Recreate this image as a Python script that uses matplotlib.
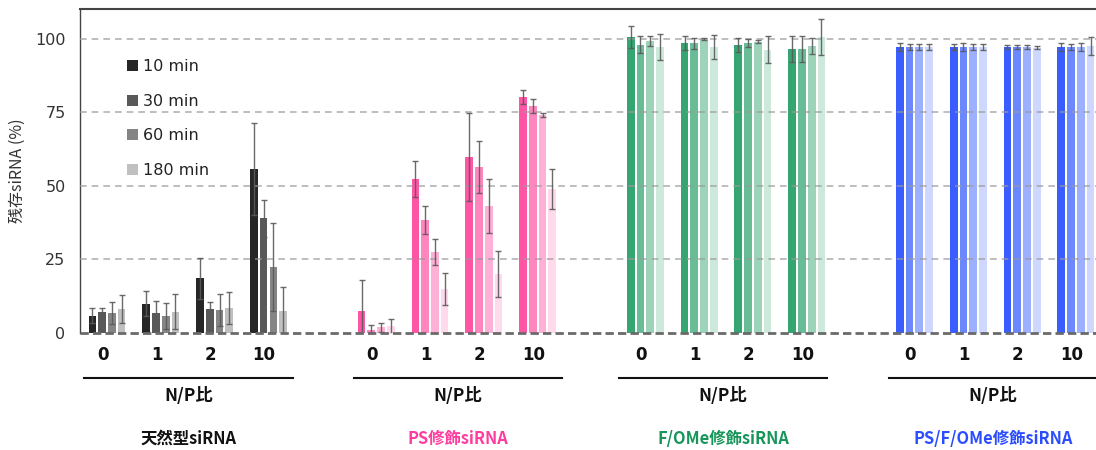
import matplotlib
matplotlib.use("Agg")
import matplotlib.pyplot as plt
import numpy as np
from matplotlib.patches import Patch
from matplotlib.lines import Line2D

plt.rcParams['font.family'] = ['Noto Sans CJK JP', 'DejaVu Sans']

# ---------------- data ----------------
np_ratios = ["0", "1", "2", "10"]
times = ["10 min", "30 min", "60 min", "180 min"]
sections = ["天然型siRNA", "PS修飾siRNA", "F/OMe修飾siRNA", "PS/F/OMe修飾siRNA"]

# rows: N/P ratio (0,1,2,10); cols: time (10,30,60,180 min)
native_mean = [[5.8, 7.2, 6.7, 8.0], [9.9, 6.7, 5.8, 7.2], [18.6, 8.2, 7.7, 8.5], [55.7, 38.9, 22.4, 7.3]]
native_err = [[2.6, 1.2, 3.9, 4.7], [4.2, 4.2, 4.4, 6.1], [7.0, 2.3, 5.5, 5.4], [15.7, 6.2, 14.9, 8.1]]
ps_mean = [[7.3, 0.8, 1.8, 2.2], [52.3, 38.4, 27.5, 14.8], [59.8, 56.4, 43.1, 20.0], [80.2, 77.2, 74.1, 48.9]]
ps_err = [[10.8, 1.8, 1.6, 2.6], [6.0, 4.9, 4.3, 5.5], [14.9, 9.0, 9.1, 7.9], [2.5, 2.5, 0.6, 6.8]]
fome_mean = [[100.7, 98.0, 99.3, 97.3], [98.6, 98.6, 100.0, 97.3], [98.0, 98.6, 99.1, 96.3], [96.6, 96.6, 97.6, 100.7]]
fome_err = [[3.8, 2.9, 1.6, 4.5], [2.3, 1.9, 0.3, 4.2], [2.5, 1.4, 0.5, 4.6], [4.3, 4.3, 2.8, 6.0]]
psfome_mean = [[97.3, 97.3, 97.3, 97.3], [97.3, 97.3, 97.3, 97.3], [97.3, 97.3, 97.3, 97.1], [97.3, 97.3, 97.3, 97.6]]
psfome_err = [[1.5, 0.9, 0.9, 0.9], [0.9, 1.5, 0.9, 0.9], [0.6, 0.6, 0.6, 0.4], [1.5, 0.9, 1.5, 3.0]]

section_means = [native_mean, ps_mean, fome_mean, psfome_mean]
section_errs = [native_err, ps_err, fome_err, psfome_err]

section_colors = [
    ['#262626', '#595959', '#858585', '#c0c0c0'],
    ['#ff55a5', '#ff85bf', '#ffb0d6', '#ffd9ec'],
    ['#35a572', '#68bc96', '#9cd3b9', '#cde9dc'],
    ['#3a5dff', '#6c88ff', '#9db0ff', '#ced8ff'],
]
title_colors = ['#111111', '#ff3d9e', '#17955a', '#2b4dff']

# ---------------- figure ----------------
W, H = 1096, 450
fig = plt.figure(figsize=(W / 100, H / 100), dpi=100)
ax_left, ax_right, ax_top, ax_bot = 79.5, 1096, 9, 332.7
ax = fig.add_axes([ax_left / W, (H - ax_bot) / H, (ax_right - ax_left) / W, (ax_bot - ax_top) / H])

PITCH = 53.83     # pixels per category slot
C0 = 107.0        # pixel center of first cluster
bar_offsets = np.array([-1.5, -0.5, 0.5, 1.5]) * 0.181
bar_w = 0.143

for s in range(4):
    for g in range(4):
        k = s * 5 + g
        for t in range(4):
            x = k + bar_offsets[t]
            ax.bar(x, section_means[s][g][t], width=bar_w, color=section_colors[s][t],
                   zorder=2, linewidth=0)
            ax.errorbar(x, section_means[s][g][t], yerr=section_errs[s][g][t], fmt='none',
                        ecolor='#5a5a5a', elinewidth=1.0, capsize=2.2, capthick=1.0,
                        zorder=4, alpha=0.9)

ax.set_xlim((ax_left - C0) / PITCH, (ax_right - C0) / PITCH)
ylim_top = (ax_bot - ax_top) / ((ax_bot - 39.0) / 100.0)
ax.set_ylim(0, ylim_top)
ax.set_yticks([0, 25, 50, 75, 100])
ax.set_yticklabels(["0", "25", "50", "75", "100"], family='DejaVu Sans')
ax.tick_params(axis='y', length=0, pad=10, labelsize=11.5, labelcolor='#333333')
ax.set_xticks([])
for yv in [25, 50, 75, 100]:
    ax.axhline(yv, color='#9a9a9a', lw=1.2, ls=(0, (4, 3)), zorder=3, alpha=0.75)
ax.axhline(0, color='#6a6a6a', lw=2.0, ls=(0, (3, 1.5)), zorder=5, clip_on=False)

ax.spines['right'].set_visible(False)
ax.spines['bottom'].set_visible(False)
ax.spines['left'].set_color('#444444')
ax.spines['left'].set_linewidth(1.0)
ax.spines['top'].set_color('#444444')
ax.spines['top'].set_linewidth(1.5)

ax.set_ylabel("残存siRNA (%)", fontsize=11.5, color='#333333')
ax.yaxis.set_label_coords(-(ax_left - 26) / (ax_right - ax_left), 0.5)

# legend (time points)
handles = [Patch(facecolor=c, edgecolor='none') for c in section_colors[0]]
fig.legend(handles, times, loc='upper left', bbox_to_anchor=(113 / W, 1 - 45 / H),
           frameon=False, prop={'family': 'DejaVu Sans', 'size': 11.5},
           handlelength=0.65, handleheight=0.65,
           handletextpad=0.3, labelspacing=1.22, labelcolor='#222222')

# annotations below the axis
line_px = [(84, 293), (354, 562), (619, 827), (889, 1097)]

for s in range(4):
    for g in range(4):
        k = s * 5 + g
        ax.annotate(np_ratios[g], xy=(k - 0.08, 1 - 355 / H), xycoords=('data', 'figure fraction'),
                    ha='center', va='center', fontsize=12, fontweight='bold',
                    color='#111111', family='DejaVu Sans', annotation_clip=False)
    x0, x1 = line_px[s]
    fig.add_artist(Line2D([x0 / W, x1 / W], [1 - 377.5 / H, 1 - 377.5 / H],
                          color='#111111', lw=1.5, transform=fig.transFigure))
    cx = (x0 + x1) / 2
    fig.text(cx / W, 1 - 396 / H, "N/P比", ha='center', va='center',
             fontsize=12.5, fontweight='bold', color='#111111')
    fig.text(cx / W, 1 - 439 / H, sections[s], ha='center', va='center',
             fontsize=11.8, fontweight='bold', color=title_colors[s])

fig.savefig("out.png", dpi=100)
